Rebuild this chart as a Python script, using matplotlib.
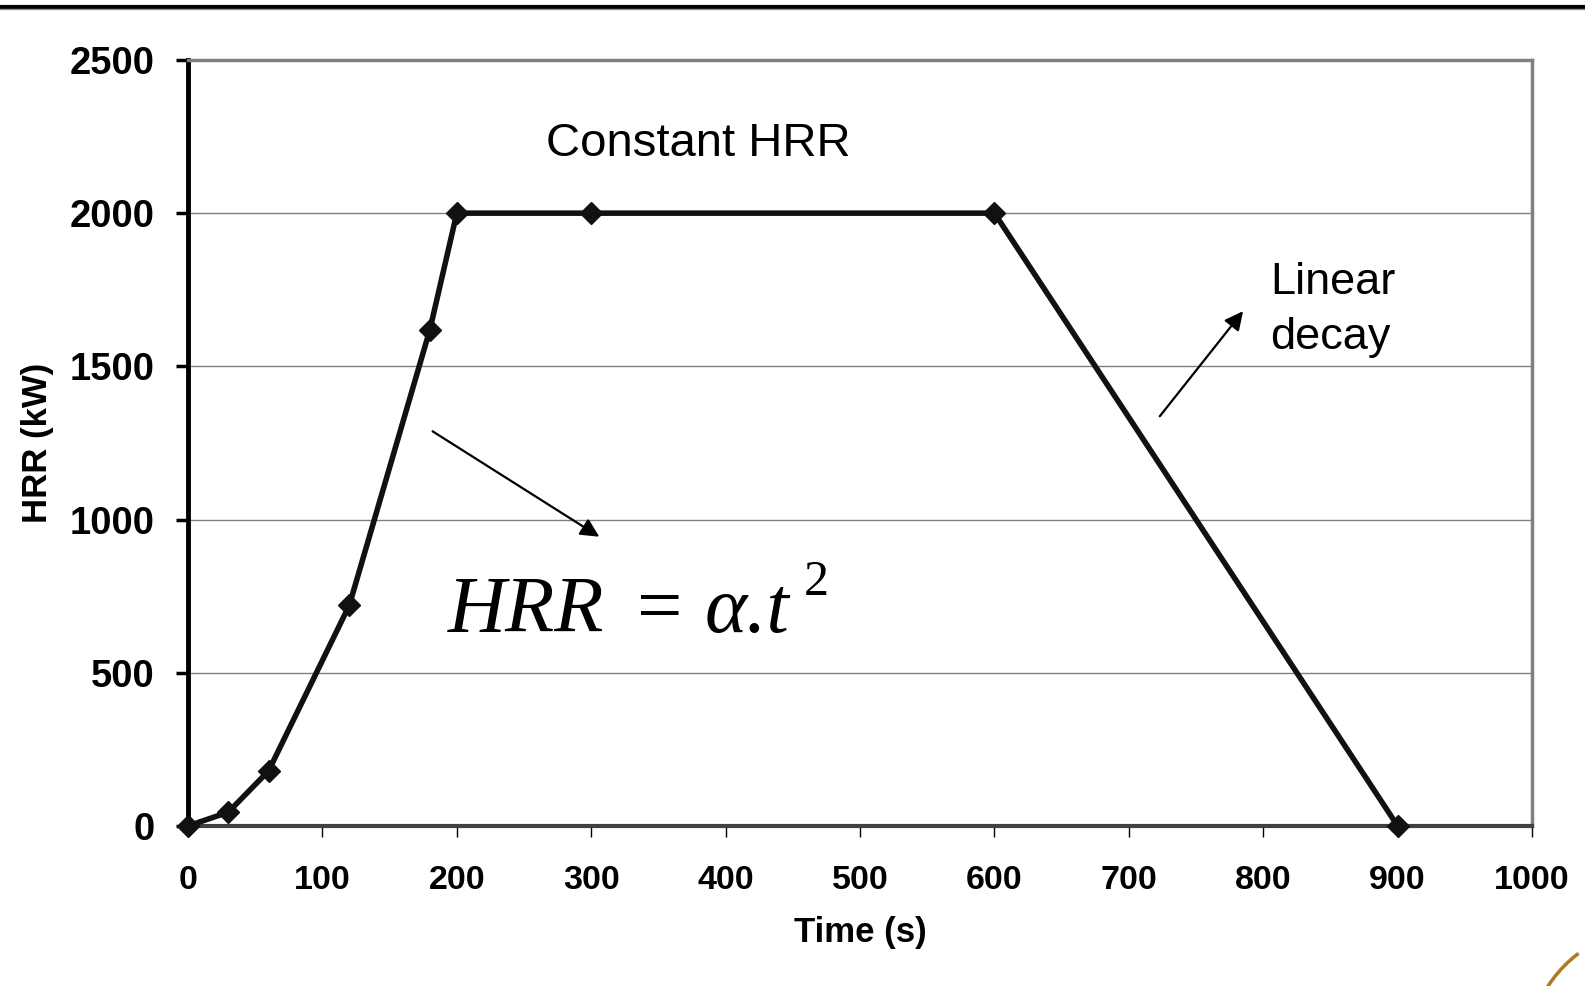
import matplotlib
matplotlib.use("Agg")
import matplotlib.pyplot as plt
from matplotlib.lines import Line2D
from matplotlib.patches import Arc

plt.rcParams['font.family'] = ['Liberation Sans', 'DejaVu Sans']

# Data
time_s = [0, 30, 60, 120, 180, 200, 300, 600, 900]
hrr_kw = [0, 45, 180, 720, 1620, 2000, 2000, 2000, 0]
x_ticks = [0, 100, 200, 300, 400, 500, 600, 700, 800, 900, 1000]
y_ticks = [0, 500, 1000, 1500, 2000, 2500]

fig = plt.figure(figsize=(15.85, 9.86), dpi=100)
ax = fig.add_axes([0.1186, 0.1623, 0.8480, 0.7769])

# grid lines
for v in y_ticks[1:-1]:
    ax.axhline(v, color='#808080', lw=1.0, zorder=1)

ax.plot(time_s, hrr_kw, color='#111111', lw=4.0, marker='D',
        markersize=11, markerfacecolor='#111111', markeredgecolor='#111111',
        clip_on=False, zorder=5)

ax.set_xlim(0, 1000)
ax.set_ylim(0, 2500)
ax.set_xticks(x_ticks)
ax.set_yticks(y_ticks)
ax.tick_params(axis='y', length=9, width=2.5, color='black', pad=15,
               labelsize=27.5)
ax.tick_params(axis='x', length=8, width=1, color='black', pad=20,
               labelsize=24.5)
for lab in ax.get_xticklabels() + ax.get_yticklabels():
    lab.set_fontweight('bold')

ax.spines['left'].set_color('black')
ax.spines['left'].set_linewidth(3.5)
ax.spines['bottom'].set_color('#404040')
ax.spines['bottom'].set_linewidth(3)
for s in ['top', 'right']:
    ax.spines[s].set_color('#808080')
    ax.spines[s].set_linewidth(2.5)

ax.set_xlabel('Time (s)', fontsize=25, fontweight='bold')
ax.set_ylabel('HRR (kW)', fontsize=25, fontweight='bold')
ax.xaxis.set_label_coords(0.5, -0.118)
ax.yaxis.set_label_coords(-0.100, 0.5)

# annotations
ax.text(266, 2186, 'Constant HRR', fontsize=34, va='baseline', ha='left')
ax.text(805, 1735, 'Linear', fontsize=32.5, va='baseline', ha='left')
ax.text(805, 1556, 'decay', fontsize=32.5, va='baseline', ha='left')

# formula HRR = alpha.t^2, set piece by piece like the slide
serif = ['Liberation Serif', 'DejaVu Serif']
ax.text(193, 634, 'HRR', fontsize=58, family=serif, style='italic',
        va='baseline', ha='left')
ax.text(334, 634, '=', fontsize=58, family=serif, va='baseline', ha='left')
ax.text(384, 634, 'α.t', fontsize=58, family=serif, style='italic',
        va='baseline', ha='left')
ax.text(458, 755, '2', fontsize=36, family=serif, va='baseline', ha='left')

arrow = dict(arrowstyle='-|>', lw=1.6, color='black', mutation_scale=28,
             shrinkA=0, shrinkB=0)
ax.annotate('', xy=(785, 1680), xytext=(723, 1337), arrowprops=arrow)
ax.annotate('', xy=(306, 944), xytext=(182, 1288), arrowprops=arrow)

# slide header rule and logo fragment
fig.add_artist(Line2D([0, 1], [0.9932, 0.9932], color='black', lw=3,
                      transform=fig.transFigure))
fig.add_artist(Line2D([0, 1], [0.9905, 0.9905], color='#909090', lw=1,
                      transform=fig.transFigure))
fig.add_artist(Arc((1.044, -0.070), 2 * 127 / 1585, 2 * 127 / 986,
                   theta1=115, theta2=150, color='#b07820', lw=2.5,
                   transform=fig.transFigure))

fig.savefig('out.png', dpi=100)
